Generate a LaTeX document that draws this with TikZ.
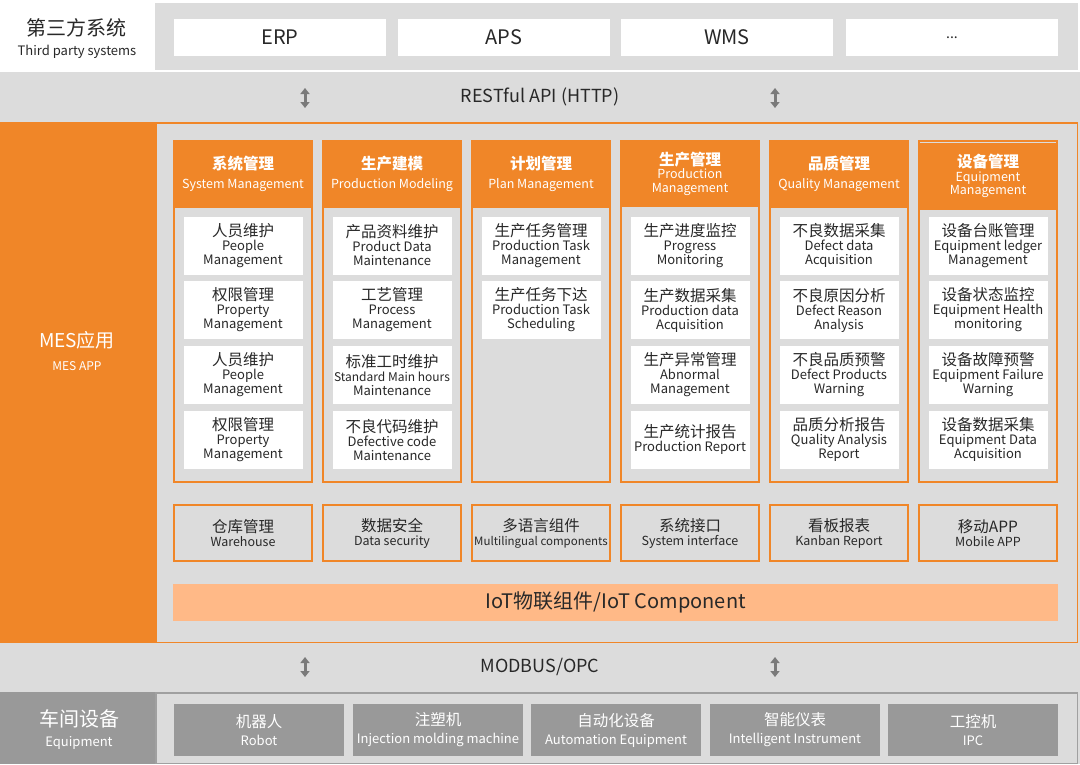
\documentclass[tikz,border=0pt]{standalone}
\usepackage{fontspec}
\setmainfont{Noto Sans CJK SC}
\usetikzlibrary{arrows.meta}
\definecolor{mesorange}{RGB}{240,134,40}
\definecolor{iotorange}{RGB}{255,185,135}
\definecolor{bggray}{RGB}{220,220,220}
\definecolor{eqgray}{RGB}{153,153,153}
\definecolor{eqborder}{RGB}{160,160,160}
\definecolor{textdark}{RGB}{40,40,40}
\definecolor{arrowgray}{RGB}{122,122,122}
\newcommand{\zhline}[1]{{\fontsize{15.5}{16}\selectfont #1}}
\newcommand{\zhhead}[1]{{\bfseries\fontsize{15.5}{16}\selectfont #1}}
\tikzset{
    sysbox/.style={fill=white, minimum width=212pt, minimum height=37pt, inner sep=0pt, text=textdark, font=\fontsize{20}{22}\selectfont},
    colframe/.style={draw=mesorange, line width=2pt, minimum width=138pt, minimum height=341pt, inner sep=0pt},
    colhead/.style={fill=mesorange, minimum width=140pt, minimum height=67pt, inner sep=0pt, text=white, align=center, font=\fontsize{12.5}{13.5}\selectfont},
    itembox/.style={fill=white, minimum width=119pt, minimum height=58pt, inner sep=0pt, text=textdark, align=center, font=\fontsize{13}{14}\selectfont},
    compbox/.style={draw=mesorange, line width=2pt, fill=bggray, minimum width=138pt, minimum height=56pt, inner sep=0pt, text=textdark, align=center, font=\fontsize{12.5}{14}\selectfont},
    eqbox/.style={fill=eqgray, minimum width=170pt, minimum height=52pt, inner sep=0pt, text=white, align=center, font=\fontsize{13}{14}\selectfont},
    updown/.style={draw=arrowgray, line width=3pt, {Triangle[width=9pt,length=6pt]}-{Triangle[width=9pt,length=6pt]}},
}
\begin{document}
\begin{tikzpicture}[x=1pt, y=-1pt]
    \useasboundingbox (0,0) rectangle (1080,764);
    \fill[bggray] (0,0) rectangle (1080,764);
    % third party systems
    \fill[white] (0,0) rectangle (1080,72);
    \fill[bggray] (155,3) rectangle (1078,70);
    \node(tp)[text=textdark, align=center] at (77,39) {{\fontsize{20}{24}\selectfont 第三方系统}\\[8pt]{\fontsize{13}{14}\selectfont Third party systems}};
    \node(s1)[sysbox] at (280,37.5) {ERP};
    \node(s2)[sysbox] at (504,37.5) {APS};
    \node(s3)[sysbox] at (727,37.5) {WMS};
    \node(s4)[sysbox] at (952,37.5) {\fontsize{14}{14}\selectfont ...};
    \node(api)[text=textdark, font=\fontsize{18}{20}\selectfont] at (540,97) {RESTful API (HTTP)};
    \coordinate(a1t) at (305,88);
    \coordinate(a1b) at (305,108);
    \coordinate(a2t) at (775,88);
    \coordinate(a2b) at (775,108);
    \draw[updown] (a1t) -- (a1b);
    \draw[updown] (a2t) -- (a2b);
    % MES app
    \fill[mesorange] (0,122) rectangle (155,643);
    \draw[mesorange, line width=1.5pt] (155.75,122.75) rectangle (1077.25,642.25);
    \node(mes)[text=white, align=center] at (77,351) {{\fontsize{19}{22}\selectfont MES应用}\\[11pt]{\fontsize{12}{13}\selectfont MES APP}};
    \node(c1)[colframe] at (243,311.5) {};
    \node(c2)[colframe] at (392,311.5) {};
    \node(c3)[colframe] at (541,311.5) {};
    \node(c4)[colframe] at (690,311.5) {};
    \node(c5)[colframe] at (839,311.5) {};
    \node(c6)[colframe] at (988,311.5) {};
    \node(h1)[colhead] at (243,174) {\zhhead{系统管理}\\[6pt]System Management};
    \node(h2)[colhead] at (392,174) {\zhhead{生产建模}\\[6pt]Production Modeling};
    \node(h3)[colhead] at (541,174) {\zhhead{计划管理}\\[6pt]Plan Management};
    \node(h4)[colhead] at (690,173.5) {\zhhead{生产管理}\\Production\\Management};
    \node(h5)[colhead] at (839,174) {\zhhead{品质管理}\\[6pt]Quality Management};
    \node(h6)[colhead] at (988,176) {\zhhead{设备管理}\\Equipment\\Management};
    % items
    \node(i11)[itembox] at (243,245.5) {\zhline{人员维护}\\People\\Management};
    \node(i12)[itembox] at (243,310) {\zhline{权限管理}\\Property\\Management};
    \node(i13)[itembox] at (243,375) {\zhline{人员维护}\\People\\Management};
    \node(i14)[itembox] at (243,439.5) {\zhline{权限管理}\\Property\\Management};
    \node(i21)[itembox] at (392,245.5) {\zhline{产品资料维护}\\Product Data\\Maintenance};
    \node(i22)[itembox] at (392,310) {\zhline{工艺管理}\\Process\\Management};
    \node(i23)[itembox] at (392,375) {\zhline{标准工时维护}\\{\fontsize{12}{14}\selectfont Standard Main hours}\\Maintenance};
    \node(i24)[itembox] at (392,439.5) {\zhline{不良代码维护}\\Defective code\\Maintenance};
    \node(i31)[itembox] at (541,245.5) {\zhline{生产任务管理}\\Production Task\\Management};
    \node(i32)[itembox] at (541,310) {\zhline{生产任务下达}\\Production Task\\Scheduling};
    \node(i41)[itembox] at (690,245.5) {\zhline{生产进度监控}\\Progress\\Monitoring};
    \node(i42)[itembox] at (690,310) {\zhline{生产数据采集}\\Production data\\Acquisition};
    \node(i43)[itembox] at (690,375) {\zhline{生产异常管理}\\Abnormal\\Management};
    \node(i44)[itembox] at (690,439.5) {\zhline{生产统计报告}\\Production Report};
    \node(i51)[itembox] at (839,245.5) {\zhline{不良数据采集}\\Defect data\\Acquisition};
    \node(i52)[itembox] at (839,310) {\zhline{不良原因分析}\\Defect Reason\\Analysis};
    \node(i53)[itembox] at (839,375) {\zhline{不良品质预警}\\Defect Products\\Warning};
    \node(i54)[itembox] at (839,439.5) {\zhline{品质分析报告}\\Quality Analysis\\Report};
    \node(i61)[itembox] at (988,245.5) {\zhline{设备台账管理}\\Equipment ledger\\Management};
    \node(i62)[itembox] at (988,310) {\zhline{设备状态监控}\\Equipment Health\\monitoring};
    \node(i63)[itembox] at (988,375) {\zhline{设备故障预警}\\Equipment Failure\\Warning};
    \node(i64)[itembox] at (988,439.5) {\zhline{设备数据采集}\\Equipment Data\\Acquisition};
    % common modules
    \node(m1)[compbox] at (243,533) {\zhline{仓库管理}\\Warehouse};
    \node(m2)[compbox] at (392,533) {\zhline{数据安全}\\Data security};
    \node(m3)[compbox] at (541,533) {\zhline{多语言组件}\\{\fontsize{11.5}{14}\selectfont Multilingual components}};
    \node(m4)[compbox] at (690,533) {\zhline{系统接口}\\System interface};
    \node(m5)[compbox] at (839,533) {\zhline{看板报表}\\Kanban Report};
    \node(m6)[compbox] at (988,533) {\zhline{移动APP}\\Mobile APP};
    \node(iot)[fill=iotorange, minimum width=885pt, minimum height=37pt, inner sep=0pt, text=textdark, font=\fontsize{20}{22}\selectfont] at (615.5,602.5) {IoT物联组件/IoT Component};
    % equipment
    \node(bus)[text=textdark, font=\fontsize{18}{20}\selectfont] at (540,667) {MODBUS/OPC};
    \coordinate(b1t) at (305,657);
    \coordinate(b1b) at (305,677);
    \coordinate(b2t) at (775,657);
    \coordinate(b2b) at (775,677);
    \draw[updown] (b1t) -- (b1b);
    \draw[updown] (b2t) -- (b2b);
    \fill[eqgray] (0,692) rectangle (155,764);
    \draw[eqborder, line width=1.5pt] (155.75,692.75) rectangle (1077.25,763.25);
    \node(eq)[text=white, align=center] at (79,730) {{\fontsize{20}{24}\selectfont 车间设备}\\[8pt]{\fontsize{13}{14}\selectfont Equipment}};
    \node(e1)[eqbox] at (259,730) {\zhline{机器人}\\[4pt]Robot};
    \node(e2)[eqbox] at (438,730) {\zhline{注塑机}\\[4pt]Injection molding machine};
    \node(e3)[eqbox] at (616,730) {\zhline{自动化设备}\\[4pt]Automation Equipment};
    \node(e4)[eqbox] at (795,730) {\zhline{智能仪表}\\[4pt]Intelligent Instrument};
    \node(e5)[eqbox] at (973,730) {\zhline{工控机}\\[4pt]IPC};
\end{tikzpicture}
\end{document}
